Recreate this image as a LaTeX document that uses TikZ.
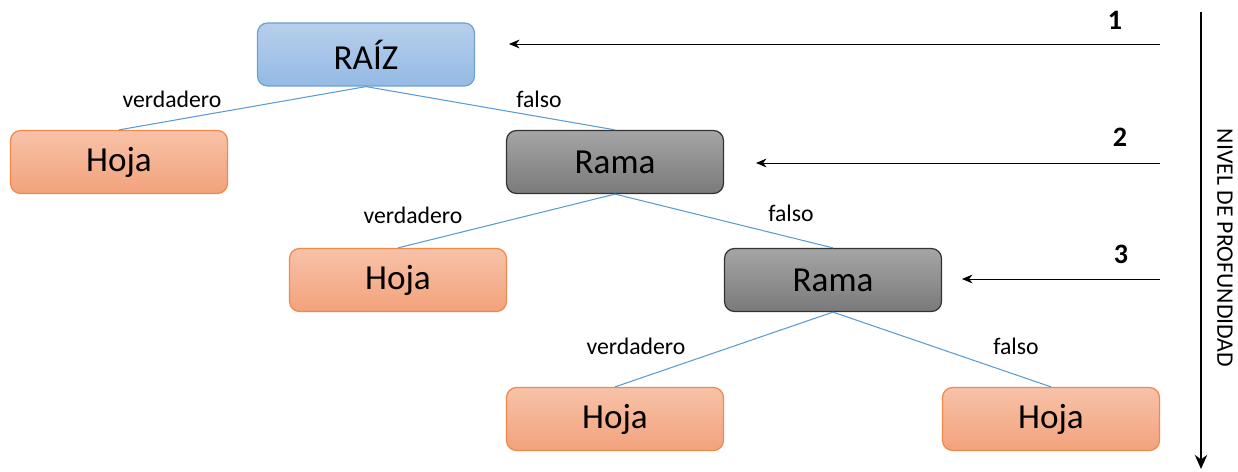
\documentclass[tikz,border=0pt]{standalone}
\usepackage{fontspec}
\setmainfont{Carlito}
\usetikzlibrary{arrows.meta}

\definecolor{azulborde}{HTML}{6E9FD6}
\definecolor{azularriba}{HTML}{B7CFEC}
\definecolor{azulabajo}{HTML}{94BAE4}
\definecolor{naranjaborde}{HTML}{F0894A}
\definecolor{naranjaarriba}{HTML}{F7C2A8}
\definecolor{naranjaabajo}{HTML}{F3A27C}
\definecolor{grisarriba}{HTML}{A5A5A5}
\definecolor{grisabajo}{HTML}{7A7A7A}
\definecolor{rama}{HTML}{5B9BD5}

\tikzset{
	caja/.style={rounded corners=0.2cm,minimum width=4.34cm,minimum height=1.26cm,line width=0.7pt,font=\fontsize{20}{24}\selectfont},
	raiz/.style={caja,draw=azulborde,top color=azularriba,bottom color=azulabajo},
	hoja/.style={caja,draw=naranjaborde,top color=naranjaarriba,bottom color=naranjaabajo},
	nodo/.style={caja,draw=black!80,top color=grisarriba,bottom color=grisabajo},
	arista/.style={draw=rama,line width=0.6pt},
	etiqueta/.style={font=\fontsize{13.5}{16}\selectfont},
	nivel/.style={font=\bfseries\fontsize{16}{18}\selectfont},
	flecha/.style={-{Stealth[length=6pt,width=5pt]},line width=0.5pt}
}

\begin{document}
\begin{tikzpicture}[x=0.02cm,y=-0.02cm]
	\useasboundingbox (0,0) rectangle (1238,472);

	% arbol
	\node[raiz] (r) at (366,54.5) {RAÍZ};
	\node[hoja] (h1) at (119,162) {Hoja};
	\node[nodo] (m1) at (615,162) {Rama};
	\node[hoja] (h2) at (398,280) {Hoja};
	\node[nodo] (m2) at (833,280) {Rama};
	\node[hoja] (h3) at (615,419) {Hoja};
	\node[hoja] (h4) at (1051,419) {Hoja};

	\draw[arista] (r.south) -- (h1.north);
	\draw[arista] (r.south) -- (m1.north);
	\draw[arista] (m1.south) -- (h2.north);
	\draw[arista] (m1.south) -- (m2.north);
	\draw[arista] (m2.south) -- (h3.north);
	\draw[arista] (m2.south) -- (h4.north);

	\node[etiqueta] (v1) at (172,99) {verdadero};
	\node[etiqueta] (f1) at (539,99) {falso};
	\node[etiqueta] (v2) at (413,215) {verdadero};
	\node[etiqueta] (f2) at (791,213) {falso};
	\node[etiqueta] (v3) at (636,346) {verdadero};
	\node[etiqueta] (f3) at (1016,346) {falso};

	% niveles
	\coordinate (a1) at (1160,44);
	\coordinate (b1) at (509,44);
	\coordinate (a2) at (1160,163);
	\coordinate (b2) at (756,163);
	\coordinate (a3) at (1160,279);
	\coordinate (b3) at (962,279);
	\draw[flecha] (a1) -- (b1);
	\draw[flecha] (a2) -- (b2);
	\draw[flecha] (a3) -- (b3);
	\node[nivel] (n1) at (1115,20) {1};
	\node[nivel] (n2) at (1120,137) {2};
	\node[nivel] (n3) at (1121,254) {3};

	\coordinate (arriba) at (1201,12);
	\coordinate (abajo) at (1201,469);
	\draw[-{Stealth[length=8pt,width=7pt]},line width=1.6pt] (arriba) -- (abajo);
	\node[etiqueta,rotate=-90] (prof) at (1225,248) {NIVEL DE PROFUNDIDAD};
\end{tikzpicture}
\end{document}
